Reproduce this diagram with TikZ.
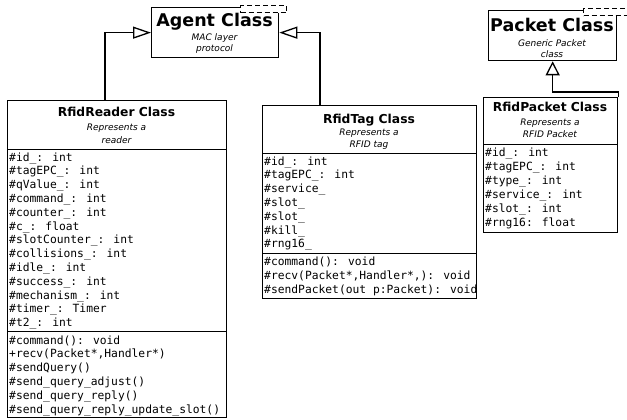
\documentclass[tikz,border=0pt]{standalone}
\usepackage{fontspec}
\setmainfont{DejaVu Sans}
\newfontfamily\monof{DejaVu Sans Mono}
\usetikzlibrary{arrows.meta}
\begin{document}
\begin{tikzpicture}[x=1pt,y=-1pt,
  box/.style={draw, line width=1.3pt, fill=white, inner sep=0pt, anchor=north west},
  ttl/.style={font=\fontsize{12.3}{14}\selectfont\bfseries, anchor=base, inner sep=0pt},
  bigttl/.style={font=\fontsize{17.5}{20}\selectfont\bfseries, anchor=base, inner sep=0pt},
  subt/.style={font=\fontsize{9}{11}\selectfont\itshape, anchor=base, inner sep=0pt},
  mono/.style={font=\monof\fontsize{11.3}{13.8}\selectfont, anchor=base west, inner sep=0pt},
  dashbox/.style={draw, line width=1.3pt, dash pattern=on 5pt off 3pt, fill=white, inner sep=0pt, anchor=north west},
  inh/.style={line width=1.3pt, -{Triangle[open, length=18pt, width=12pt, line width=1.3pt]}},
  inhb/.style={line width=1.3pt, -{Triangle[open, length=14pt, width=14pt, line width=1.3pt]}},
]
\path[use as bounding box, fill=white] (0,0) rectangle (627,420);

% ---------- Agent Class ----------
\node[box, minimum width=127pt, minimum height=50pt] (agent) at (151,7) {};
\node[dashbox, minimum width=46pt, minimum height=7pt] (agentd) at (240,5) {};
\node[bigttl] (agentt) at (214.5,26.5) {Agent Class};
\node[subt] (agents1) at (214.5,41) {MAC layer};
\node[subt] (agents2) at (214.5,52) {protocol};

% ---------- Packet Class ----------
\node[box, minimum width=128pt, minimum height=50pt] (packet) at (488,10) {};
\node[dashbox, minimum width=45pt, minimum height=7pt] (packetd) at (583,8) {};
\node[bigttl] (packett) at (552,32) {Packet Class};
\node[subt] (packets1) at (552,47) {Generic Packet};
\node[subt] (packets2) at (552,58) {class};

% ---------- RfidReader Class ----------
\node[box, minimum width=219pt, minimum height=49pt] (rh) at (7,100) {};
\node[box, minimum width=219pt, minimum height=182pt] (ra) at (7,149) {};
\node[box, minimum width=219pt, minimum height=86pt] (rm) at (7,331) {};
\node[ttl] (rt) at (116.5,117) {RfidReader Class};
\node[subt] (rs1) at (116.5,130.5) {Represents a};
\node[subt] (rs2) at (116.5,143) {reader};
\foreach \t [count=\i] in {\#id\_: int, \#tagEPC\_: int, \#qValue\_: int, \#command\_: int,
  \#counter\_: int, \#c\_: float, \#slotCounter\_: int, \#collisions\_: int, \#idle\_: int,
  \#success\_: int, \#mechanism\_: int, \#timer\_: Timer, \#t2\_: int}
  \node[mono] (ra\i) at (9,{161+13.8*(\i-1)}) {\t};
\foreach \t [count=\i] in {\#command(): void, {+recv(Packet*,Handler*)}, \#sendQuery(),
  \#send\_query\_adjust(), \#send\_query\_reply(), \#send\_query\_reply\_update\_slot()}
  \node[mono] (rm\i) at (9,{344+13.8*(\i-1)}) {\t};

% ---------- RfidTag Class ----------
\node[box, minimum width=214pt, minimum height=48pt] (th) at (262,105) {};
\node[box, minimum width=214pt, minimum height=100pt] (ta) at (262,153) {};
\node[box, minimum width=214pt, minimum height=45pt] (tm) at (262,253) {};
\node[ttl] (tt) at (369,123) {RfidTag Class};
\node[subt] (ts1) at (369,135.5) {Represents a};
\node[subt] (ts2) at (369,147.5) {RFID tag};
\foreach \t [count=\i] in {\#id\_: int, \#tagEPC\_: int, \#service\_, \#slot\_, \#slot\_,
  \#kill\_, \#rng16\_}
  \node[mono] (ta\i) at (264,{165+13.8*(\i-1)}) {\t};
\foreach \t [count=\i] in {\#command(): void, {\#recv(Packet*,Handler*,): void},
  \#sendPacket(out p:Packet): void}
  \node[mono] (tm\i) at (264,{265.5+13.8*(\i-1)}) {\t};

% ---------- RfidPacket Class ----------
\node[box, minimum width=134pt, minimum height=47pt] (ph) at (483,97) {};
\node[box, minimum width=134pt, minimum height=88pt] (pa) at (483,144) {};
\node[ttl] (pt) at (550,112) {RfidPacket Class};
\node[subt] (ps1) at (550,125.5) {Represents a};
\node[subt] (ps2) at (550,137.5) {RFID Packet};
\foreach \t [count=\i] in {\#id\_: int, \#tagEPC\_: int, \#type\_: int, \#service\_: int,
  \#slot\_: int, \#rng16: float}
  \node[mono] (pa\i) at (485,{157+13.8*(\i-1)}) {\t};

% ---------- connectors ----------
\coordinate (rdock) at (105,100);
\coordinate (tdock) at (320,105);
\draw[inh] (rdock) |- (agent.west);
\draw[inh] (tdock) |- (agent.east);
\draw[inhb] (ph.north east) -- ++(0,-5) -| (packet.south);
\end{tikzpicture}
\end{document}
